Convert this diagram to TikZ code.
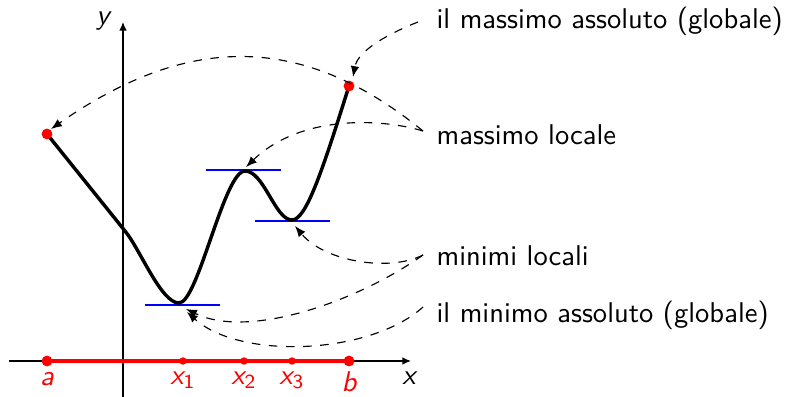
\documentclass[tikz,border=0pt]{standalone}
\usetikzlibrary{arrows.meta}
\begin{document}
\begin{tikzpicture}[x=0.35pt,y=-0.35pt,
  every node/.style={font=\sffamily},
  curve/.style={line width=1.2pt, line join=round, line cap=round},
  tang/.style={blue, line width=0.8pt},
  seg/.style={red, line width=1.2pt},
  bigdot/.style={fill=red, circle, inner sep=0pt, minimum size=3.8pt},
  smalldot/.style={fill=red, circle, inner sep=0pt, minimum size=2.6pt},
  axis/.style={line width=0.4pt, -{Latex[length=3pt,width=2.6pt]}},
  ann/.style={dashed, line width=0.4pt, -{Latex[length=3.8pt,width=3pt]}},
  lab/.style={anchor=base west, inner sep=0pt},
  ptlab/.style={red, anchor=base, inner sep=0pt, font=\sffamily\itshape},
  axlab/.style={anchor=base, inner sep=0pt, font=\sffamily\itshape}
]
\useasboundingbox (0,0) rectangle (789,397);

% axes
\coordinate (xs) at (9,361);
\coordinate (xe) at (411,361);
\coordinate (ys) at (123,397);
\coordinate (ye) at (123,22);
\draw[axis] (xs) -- (xe);
\draw[axis] (ys) -- (ye);
\node[axlab] (xl) at (409,384) {x};
\node[axlab] (yl) at (103,25) {y};

% interval [a,b]
\coordinate (pa) at (47,361);
\coordinate (pb) at (349,361);
\draw[seg] (pa) -- (pb);
\node[bigdot] (da) at (pa) {};
\node[bigdot] (db) at (pb) {};
\node[smalldot] (d1) at (183,361) {};
\node[smalldot] (d2) at (244,361) {};
\node[smalldot] (d3) at (292,361) {};
\node[ptlab] (la) at (47,385) {a};
\node[ptlab] (lb) at (349,391) {b};
\node[ptlab] (l1) at (183,384) {x\textsubscript{\upshape 1}};
\node[ptlab] (l2) at (244,384) {x\textsubscript{\upshape 2}};
\node[ptlab] (l3) at (292,384) {x\textsubscript{\upshape 3}};

% tangent lines
\draw[tang] (145,305) -- (220,305);
\draw[tang] (206,170) -- (281,170);
\draw[tang] (255,221) -- (330,221);

% function graph
\coordinate (fa) at (47,134);
\coordinate (fb) at (349,86);
\draw[curve] (fa) -- (125,231)
  .. controls (140,249) and (161,303) .. (179,303)
  .. controls (198,303) and (224,171) .. (245,171)
  .. controls (264,171) and (275,220) .. (292,220)
  .. controls (306,220) and (322,172) .. (fb);
\node[bigdot] (ea) at (fa) {};
\node[bigdot] (eb) at (fb) {};

% labels
\node[lab] (t1) at (436,29) {il massimo assoluto (globale)};
\node[lab] (t2) at (436,145) {massimo locale};
\node[lab] (t3) at (436,266) {minimi locali};
\node[lab] (t4) at (436,323) {il minimo assoluto (globale)};

% annotation start points
\coordinate (s1) at (418,22);
\coordinate (s2) at (423,131);
\coordinate (s3) at (423,255);
\coordinate (s4) at (423,307);
% targets
\coordinate (gmax) at (353,77);
\coordinate (amax) at (51,129);
\coordinate (lmax) at (246,167);
\coordinate (lmin) at (295,226);
\coordinate (gmin1) at (186,309);
\coordinate (gmin2) at (187,312);

\draw[ann] (s1) .. controls (390,33) and (358,50) .. (gmax);
\draw[ann] (s2) .. controls (298,29) and (183,37) .. (amax);
\draw[ann] (s2) .. controls (380,118) and (300,115) .. (lmax);
\draw[ann] (s3) .. controls (390,272) and (325,262) .. (lmin);
\draw[ann] (s3) .. controls (360,300) and (250,340) .. (gmin1);
\draw[ann] (s4) .. controls (370,355) and (240,360) .. (gmin2);
\end{tikzpicture}
\end{document}
